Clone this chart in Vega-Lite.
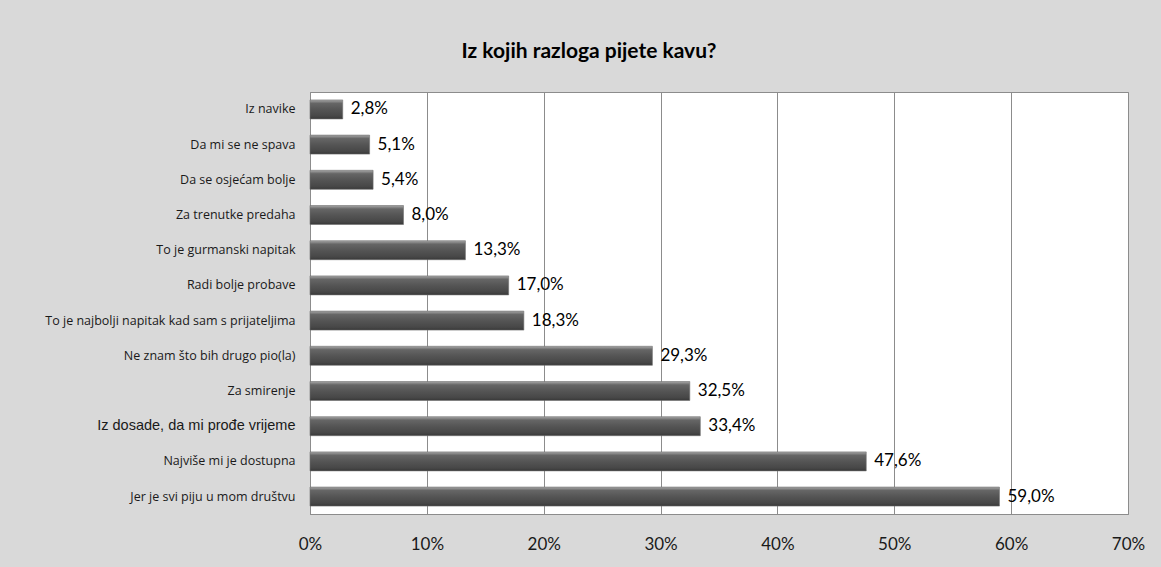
{
  "$schema": "https://vega.github.io/schema/vega-lite/v6.json",
  "width": 818,
  "height": 422,
  "autosize": {"type": "none"},
  "padding": {"left": 310, "top": 92, "right": 33, "bottom": 53},
  "background": "#d9d9d9",
  "title": {
    "text": "Iz kojih razloga pijete kavu?",
    "font": "Lato",
    "fontSize": 21,
    "fontWeight": "bold",
    "color": "#000000",
    "anchor": "middle",
    "dx": -130,
    "offset": 30
  },
  "data": {
    "values": [
      {"razlog": "Iz navike", "udio": 0.028},
      {"razlog": "Da mi se ne spava", "udio": 0.051},
      {"razlog": "Da se osjećam bolje", "udio": 0.054},
      {"razlog": "Za trenutke predaha", "udio": 0.080},
      {"razlog": "To je gurmanski napitak", "udio": 0.133},
      {"razlog": "Radi bolje probave", "udio": 0.170},
      {"razlog": "To je najbolji napitak kad sam s prijateljima", "udio": 0.183},
      {"razlog": "Ne znam što bih drugo pio(la)", "udio": 0.293},
      {"razlog": "Za smirenje", "udio": 0.325},
      {"razlog": "Iz dosade, da mi prođe vrijeme", "udio": 0.334},
      {"razlog": "Najviše mi je dostupna", "udio": 0.476},
      {"razlog": "Jer je svi piju u mom društvu", "udio": 0.590}
    ]
  },
  "encoding": {
    "y": {
      "field": "razlog",
      "type": "nominal",
      "sort": null,
      "scale": {"paddingInner": 0.46, "paddingOuter": 0.225},
      "axis": {
        "title": null,
        "ticks": false,
        "domain": true,
        "domainColor": "#8c8c8c",
        "labelFont": {"condition": {"test": "datum.value == 'Iz dosade, da mi prođe vrijeme'", "value": "Liberation Sans"}, "value": "Open Sans"},
        "labelFontSize": {"condition": {"test": "datum.value == 'Iz dosade, da mi prođe vrijeme'", "value": 14.5}, "value": 12.5},
        "labelColor": "#1a1a1a",
        "labelPadding": 15,
        "labelLimit": 320
      }
    },
    "x": {
      "field": "udio",
      "type": "quantitative",
      "scale": {"domain": [0, 0.7], "nice": false},
      "axis": {
        "title": null,
        "format": ".0%",
        "values": [0, 0.1, 0.2, 0.3, 0.4, 0.5, 0.6, 0.7],
        "ticks": false,
        "domain": true,
        "domainColor": "#8c8c8c",
        "grid": true,
        "gridColor": "#8c8c8c",
        "gridWidth": 1,
        "labelFlush": false,
        "labelOverlap": false,
        "labelFont": "Lato",
        "labelFontSize": 17,
        "labelColor": "#1a1a1a",
        "labelPadding": 22
      }
    }
  },
  "layer": [
    {
      "mark": {
        "type": "bar",
        "stroke": "#6e6e6e",
        "strokeWidth": 0.6,
        "color": {
          "gradient": "linear",
          "x1": 0, "y1": 0, "x2": 0, "y2": 1,
          "stops": [
            {"offset": 0, "color": "#a8a8a8"},
            {"offset": 0.18, "color": "#666666"},
            {"offset": 0.5, "color": "#555555"},
            {"offset": 0.85, "color": "#474747"},
            {"offset": 1, "color": "#383838"}
          ]
        }
      }
    },
    {
      "mark": {
        "type": "text",
        "align": "left",
        "baseline": "middle",
        "dx": 8,
        "font": "Lato",
        "fontSize": 17,
        "color": "#000000"
      },
      "encoding": {
        "text": {"field": "udio", "type": "quantitative", "format": ".1%"}
      }
    }
  ],
  "config": {
    "view": {"fill": "#ffffff", "stroke": "#8c8c8c", "strokeWidth": 1},
    "locale": {
      "number": {
        "decimal": ",",
        "thousands": ".",
        "grouping": [3],
        "currency": ["", " €"]
      }
    }
  }
}
